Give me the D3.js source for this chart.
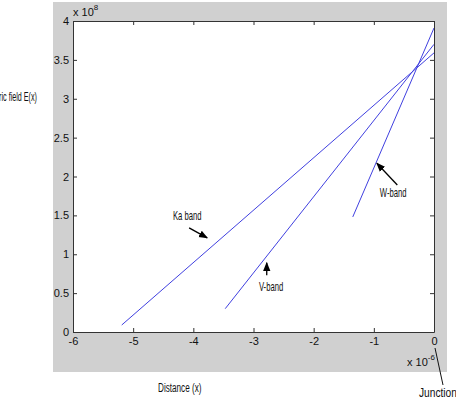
<!DOCTYPE html>
<html>
<head>
<meta charset="utf-8">
<script src="https://cdn.jsdelivr.net/npm/d3@7"></script>
<style>
  body { margin: 0; background: #fff; }
  svg { display: block; }
</style>
</head>
<body>
<svg id="chart" width="456" height="401"></svg>
<script>
// values in units of 1e-6 (x) and 1e8 (y)
let bands = ["Ka band", "V-band", "W-band"];
let xStart = [-5.19, -3.47, -1.35];
let xEnd = [0, 0, 0];
let yStart = [0.09, 0.30, 1.48];
let yEnd = [3.59, 3.70, 3.91];
let xTicks = [-6, -5, -4, -3, -2, -1, 0];
let yTicks = [0, 0.5, 1, 1.5, 2, 2.5, 3, 3.5, 4];
// annotation arrows: label position and arrow from/to, in data units
let labelAt = [[-4.34, 1.44], [-2.91, 0.53], [-0.90, 1.74]];
let arrowFrom = [[-4.07, 1.34], [-2.78, 0.73], [-0.61, 1.89]];
let arrowTo = [[-3.77, 1.21], [-2.78, 0.89], [-0.95, 2.17]];

let svg = d3.select("#chart");
let pLeft = 73, pTop = 21, pRight = 434, pBottom = 332;

let x = d3.scaleLinear().domain([-6, 0]).range([pLeft, pRight]);
let y = d3.scaleLinear().domain([0, 4]).range([pBottom, pTop]);

// grey figure background
svg.append("rect")
    .attr("x", 53).attr("y", 2)
    .attr("width", 394).attr("height", 370)
    .attr("fill", "#d0d0d0");

svg.append("rect")
    .attr("x", pLeft).attr("y", pTop)
    .attr("width", pRight - pLeft).attr("height", pBottom - pTop)
    .attr("fill", "#fff");

svg.append("defs").append("marker")
    .attr("id", "head")
    .attr("viewBox", "0 0 10 10")
    .attr("refX", 9).attr("refY", 5)
    .attr("markerWidth", 7).attr("markerHeight", 7)
    .attr("orient", "auto")
    .append("path")
    .attr("d", "M0,1 L10,5 L0,9 Z")
    .attr("fill", "#000");

// lines
let line = d3.line().x((d) => x(d[0])).y((d) => y(d[1]));
bands.forEach(function (b, i) {
    svg.append("path")
        .attr("d", line([[xStart[i], yStart[i]], [xEnd[i], yEnd[i]]]))
        .attr("fill", "none")
        .attr("stroke", "#4040e0")
        .attr("stroke-width", 1);
});

let fmt = (d) => String(d);

function styleAxis(g) {
    g.selectAll(".domain").attr("stroke", "#333");
    g.selectAll(".tick line").attr("stroke", "#333");
    g.selectAll("text")
        .attr("fill", "#111")
        .style("font-family", "'Liberation Sans', Arial, sans-serif")
        .style("font-size", "11px");
}

svg.append("g")
    .attr("transform", "translate(0," + pBottom + ")")
    .call(d3.axisBottom(x).tickValues(xTicks).tickFormat(fmt).tickSize(-4).tickPadding(5).tickSizeOuter(0))
    .call(styleAxis);
svg.append("g")
    .attr("transform", "translate(0," + pTop + ")")
    .call(d3.axisTop(x).tickValues(xTicks).tickSize(-4).tickFormat("").tickSizeOuter(0))
    .call(styleAxis);
svg.append("g")
    .attr("transform", "translate(" + pLeft + ",0)")
    .call(d3.axisLeft(y).tickValues(yTicks).tickFormat(fmt).tickSize(-4).tickPadding(4).tickSizeOuter(0))
    .call(styleAxis);
svg.append("g")
    .attr("transform", "translate(" + pRight + ",0)")
    .call(d3.axisRight(y).tickValues(yTicks).tickSize(-4).tickFormat("").tickSizeOuter(0))
    .call(styleAxis);

let font = "'Liberation Sans', Arial, sans-serif";

// exponent labels
let e1 = svg.append("text").attr("x", pLeft).attr("y", 16)
    .style("font-family", font).style("font-size", "11px").attr("fill", "#111");
e1.append("tspan").text("x 10");
e1.append("tspan").attr("dy", -6).style("font-size", "8px").text("8");

let e2 = svg.append("text").attr("x", 407).attr("y", 366)
    .style("font-family", font).style("font-size", "11px").attr("fill", "#111");
e2.append("tspan").text("x 10");
e2.append("tspan").attr("dy", -6).style("font-size", "8px").text("-6");

// narrow labels
let narrow = "'Liberation Sans Narrow', 'Arial Narrow', sans-serif";
function narrowText(tx, ty, s, anchor, size, sx) {
    svg.append("text")
        .attr("transform", "translate(" + tx + "," + ty + ") scale(" + (sx || 0.8) + ",1)")
        .attr("text-anchor", anchor || "start")
        .style("font-family", narrow)
        .style("font-size", (size || 11) + "px")
        .attr("fill", "#111")
        .text(s);
}

narrowText(37, 101, "Electric field E(x)", "end", 12, 0.6);
narrowText(158, 392, "Distance (x)", "start", 12, 0.68);
narrowText(419, 397, "Junction", "start", 12, 0.85);

svg.append("line")
    .attr("x1", 435).attr("y1", 348)
    .attr("x2", 443).attr("y2", 385)
    .attr("stroke", "#111").attr("stroke-width", 1);

bands.forEach(function (b, i) {
    narrowText(x(labelAt[i][0]), y(labelAt[i][1]), b, "start", 12, 0.64);
    svg.append("line")
        .attr("x1", x(arrowFrom[i][0])).attr("y1", y(arrowFrom[i][1]))
        .attr("x2", x(arrowTo[i][0])).attr("y2", y(arrowTo[i][1]))
        .attr("stroke", "#000").attr("stroke-width", 1.3)
        .attr("marker-end", "url(#head)");
});
</script>
</body>
</html>
